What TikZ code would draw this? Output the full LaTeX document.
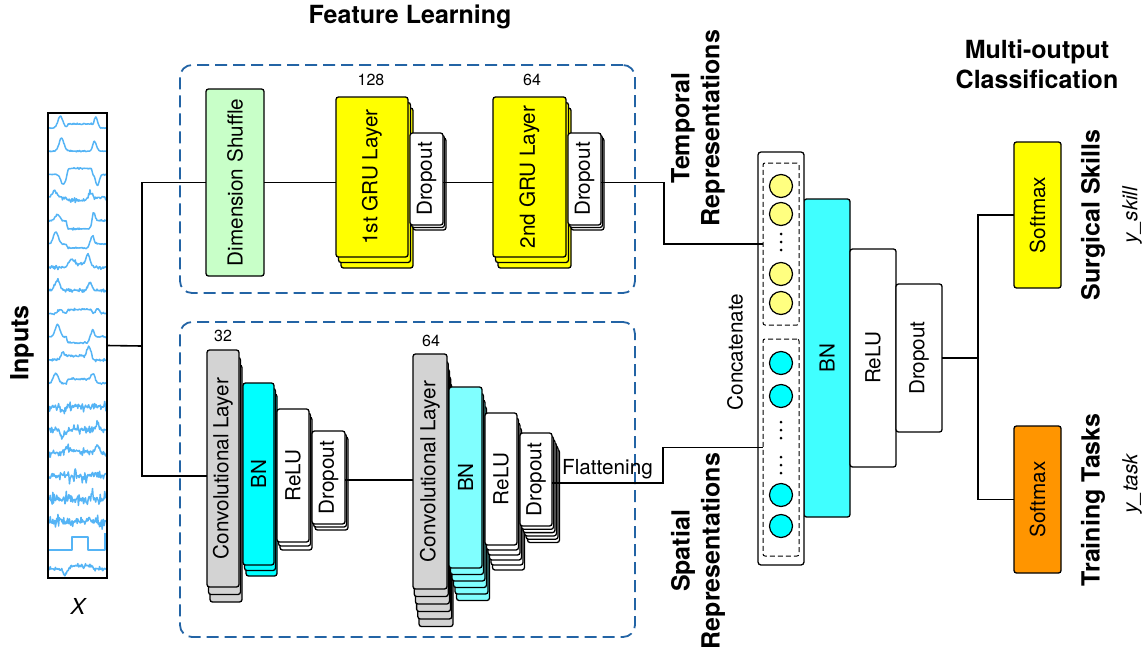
\documentclass[tikz,border=0pt]{standalone}
\usepackage{fontspec}
\setmainfont{TeX Gyre Heros}
\usepackage{graphicx}
\definecolor{dimgreen}{RGB}{200,255,200}
\definecolor{gruyel}{RGB}{255,255,0}
\definecolor{convgray}{RGB}{211,211,211}
\definecolor{bncyan}{RGB}{0,255,255}
\definecolor{bnlight}{RGB}{128,255,255}
\definecolor{bnmid}{RGB}{64,255,255}
\definecolor{tempyel}{RGB}{255,255,128}
\definecolor{taskorange}{RGB}{255,149,0}
\definecolor{panelblue}{RGB}{35,100,165}
\definecolor{sigblue}{RGB}{85,180,245}
\tikzset{
  box/.style={draw,line width=1.3pt,rounded corners=2.5pt,inner sep=0pt,outer sep=0pt,font=\fontsize{20.7}{24}\selectfont},
  conn/.style={line width=1.6pt},
  panel/.style={draw=panelblue,line width=1.8pt,dash pattern=on 12pt off 6pt,rounded corners=12pt,inner sep=0pt},
  grp/.style={draw,line width=1pt,dash pattern=on 5pt off 3pt,rounded corners=2pt,inner sep=0pt,outer sep=0pt},
  cell/.style={draw,circle,line width=1.2pt,minimum size=23pt,inner sep=0pt},
  ttl/.style={font=\fontsize{25}{30}\selectfont\bfseries,align=center},
  lbl/.style={font=\fontsize{20.7}{24}\selectfont},
  num/.style={font=\fontsize{16}{18}\selectfont},
  sig/.style={sigblue,line width=1.5pt,line join=round},
}
\begin{document}
\begin{tikzpicture}[x=1pt,y=-1pt,
  declare function={kbump(\qt,\qc,\qw)=exp(-min(((\qt-\qc)/\qw)^2,12));
    kplat(\qt)=min(max((\qt-0.3)*30,0),1)-min(max((\qt-0.74)*30,0),1);}]
\useasboundingbox (0,0) rectangle (1146,649);
\pgfmathsetseed{11}
% inputs
\foreach \i/\ka/\pa/\kb/\kc/\pc/\kn in {0/12/.2/4/11/.82/.5,1/13/.22/0/10/.8/.5,2/-10/.25/6/-11/.85/.5,
3/7/.1/-3/9/.72/1.5,4/6/.15/-8/8/.78/.6,5/12/.12/-4/10/.75/.6,6/5/.4/3/10/.68/1.5,7/10/.15/0/8/.72/1.2,
8/4/.2/4/5/.85/.8,9/12/.15/-6/10/.75/.6,10/7/.25/4/9/.7/1.2,11/10/.12/4/9/.78/.8,12/3/.3/0/-7/.25/3.5,
13/-7/.25/0/5/.85/3,14/4/.3/2/7/.85/2.5,15/2/.2/0/4/.8/4.5,16/1/.2/0/5/.75/4.5,17/3/.2/0/5/.7/4.5,19/-6/.3/3/0/.8/1.5}{
\pgfmathsetmacro{\ky}{128+23.2*\i}
\draw[sig] plot[domain=0:1,samples=90] ({49+57*\x},{\ky-(\ka)*kbump(\x,\pa,0.06)-(\kb)*kplat(\x)-(\kc)*kbump(\x,\pc,0.045)+\kn*(0.4*rand+1.6*rand^3)});}
\draw[sig] (49,550)--(72,550)--(72,537)--(88,537)--(88,550)--(105,550)--(105,533);
\node[draw,line width=1.3pt,minimum width=59,minimum height=465,inner sep=0pt,outer sep=0pt](inp) at (77.5,345.5){};
\node[ttl,rotate=90](inl) at (22,343){Inputs};
\node[lbl,font=\fontsize{22}{24}\selectfont\itshape](xl) at (78,606){X};
% panels
\node[panel,minimum width=455,minimum height=228](fpan) at (407.5,179){};
\node[panel,minimum width=455,minimum height=315](cpan) at (407.5,479.5){};
\node[ttl](fl) at (410,17){Feature Learning};
\node[ttl](mocl) at (1037,64){Multi-output\\Classification};
% stacked layers
\foreach \nm/\cx/\cy/\w/\h/\col/\n/\dx/\dy/\txt in {
g1/372/177/72/160/gruyel/2/2.5/5.5/{1st GRU Layer},do1/426.5/179/33/92/white/2/1.5/2.5/Dropout,
g2/529.5/177/73/160/gruyel/2/2.5/5.5/{2nd GRU Layer},do2/584.5/179/33/92/white/2/1.5/2.5/Dropout,
cv1/223/468.5/32/237/convgray/2/1.5/7.5/{Convolutional Layer},bn1/258.5/474/31/182/bncyan/2/1.5/5.5/BN,
rl1/293/475.5/32/133/white/2/1.5/4/ReLU,dp1/328.5/477.5/33/93/white/2/1.5/3/Dropout,
cv2/430/471.5/34/235/convgray/5/1.2/7.5/{Convolutional Layer},bn2/465.5/477.5/33/181/bnlight/5/1.5/6.5/BN,
rl2/501/479/32/132/white/5/1.5/5/ReLU,dp2/536/479.5/32/93/white/5/1.5/3.3/Dropout}{
\foreach \k in {\n,...,1}{\draw[box,fill=\col]({\cx-\w/2+\k*\dx},{\cy-\h/2+\k*\dy}) rectangle ++(\w,\h);}
\node[box,fill=\col,minimum width=\w,minimum height=\h](\nm) at (\cx,\cy){\rotatebox{90}{\txt}};}
\foreach \nm/\cx/\cy/\w/\h/\col/\txt in {dim/235/182.5/58/187/dimgreen/{Dimension Shuffle},
bnc/827/358/46/318/bnmid/BN,rl3/873/358/46/218/white/ReLU,dp3/919/358/46/148/white/Dropout,
sm1/1037.5/215/47/146/gruyel/Softmax,sm2/1037.5/499.5/47/147/taskorange/Softmax}{
\node[box,fill=\col,minimum width=\w,minimum height=\h](\nm) at (\cx,\cy){\rotatebox{90}{\txt}};}
\foreach \kx/\ky/\a in {371/80/128,532/80/64,223/336/32,431/341/64}{\node[num] at (\kx,\ky){\a};}
% concatenation
\node[box,fill=white,rounded corners=3pt,minimum width=46,minimum height=413](cat) at (781,358.5){};
\node[grp,minimum width=36,minimum height=162](tgrp) at (781,244){};
\node[grp,minimum width=36,minimum height=217](sgrp) at (781,447.5){};
\foreach \ky [count=\i] in {186,214,274,303}{\node[cell,fill=tempyel](t\i) at (781,\ky){};}
\foreach \ky [count=\i] in {363,396,495,526}{\node[cell,fill=bncyan](s\i) at (781,\ky){};}
\foreach \ky in {242,430,465}{\foreach \dd in {-8,0,8}{\fill (781,\ky+\dd) circle (1.5pt);}}
\node[lbl,rotate=90](catl) at (735,352){Concatenate};
\node[ttl,rotate=90](trep) at (698,128){Temporal\\Representations};
\node[ttl,rotate=90](srep) at (698,551){Spatial\\Representations};
\node[ttl,rotate=90](skl) at (1093,215){Surgical Skills};
\node[ttl,rotate=90](tkl) at (1093,500){Training Tasks};
\node[lbl,font=\fontsize{20.7}{24}\selectfont\itshape,rotate=90](ysk) at (1132,215){y\_skill};
\node[lbl,font=\fontsize{20.7}{24}\selectfont\itshape,rotate=90](ytk) at (1132,484){y\_task};
% connectors
\coordinate (ksplit) at (142,346);
\coordinate (klow) at (142,476);
\draw[conn] (inp.east)--(ksplit);
\draw[conn] (dim.west)-|(ksplit)--(klow)--(klow-|cv1.west);
\draw[conn] (dim.east)--(dim.east-|g1.west);
\draw[conn] (do1.east|-dim.east)--(dim.east-|g2.west);
\coordinate (ktu) at (664,182.5);
\coordinate (ktd) at (664,244);
\draw[conn] (do2.east|-dim.east)--(ktu)--(ktd)--(tgrp.west);
\coordinate (kmid) at (0,480);
\draw[conn] (dp1.east|-kmid)--(kmid-|cv2.west);
\coordinate (kfl) at (663,483);
\coordinate (kfu) at (663,447.5);
\draw[conn] (dp2.east|-kfl)--node[lbl,above,inner sep=3pt]{Flattening}(kfl)--(kfu)--(sgrp.west);
\coordinate (kout) at (978,358);
\draw[conn] (dp3.east)--(kout);
\draw[conn] (sm1.west)-|(kout)|-(sm2.west);
\end{tikzpicture}
\end{document}
